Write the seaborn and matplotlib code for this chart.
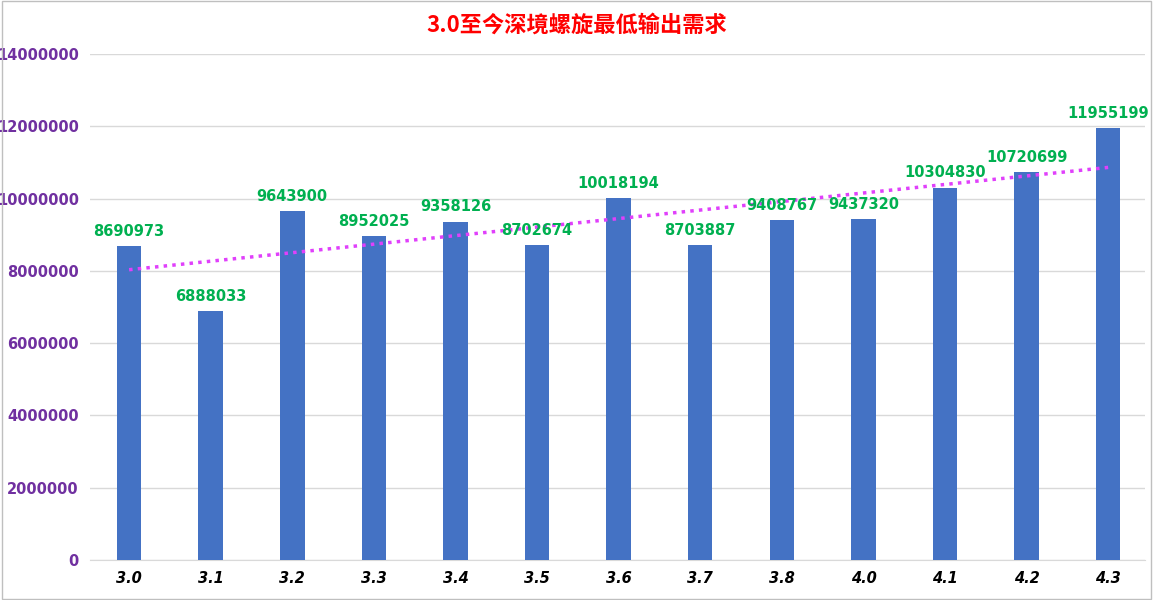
import numpy as np
import pandas as pd
import matplotlib
matplotlib.use("Agg")
import matplotlib.pyplot as plt
import seaborn as sns

# ---------------------------------------------
# Данные
# ---------------------------------------------
versions = ["3.0", "3.1", "3.2", "3.3", "3.4", "3.5", "3.6", "3.7", "3.8", "4.0", "4.1", "4.2", "4.3"]
demand = [8690973, 6888033, 9643900, 8952025, 9358126, 8702674, 10018194,
          8703887, 9408767, 9437320, 10304830, 10720699, 11955199]

title_text = "3.0至今深境螺旋最低输出需求"

plt.rcParams["font.family"] = ["Noto Sans CJK SC", "DejaVu Sans"]

df = pd.DataFrame({"version": versions, "demand": demand})

fig = plt.figure(figsize=(11.53, 6), dpi=100)
ax = fig.add_axes([0.078, 0.067, 0.915, 0.843])

sns.barplot(data=df, x="version", y="demand", color="#4472C4",
            width=0.3, saturation=1, ax=ax, zorder=3)

# линия тренда
xs = np.arange(len(demand))
k, b = np.polyfit(xs, demand, 1)
ax.plot(xs, k * xs + b, linestyle=(0, (1, 1.5)), color="#E040FB",
        linewidth=2.5, zorder=4)

for i, v in enumerate(demand):
    ax.text(i, v + 200000, str(v), ha="center", va="bottom",
            color="#00B050", fontsize=10.5, fontweight="bold",
            fontfamily="DejaVu Sans", zorder=5)

ax.set_ylim(0, 14000000)
ax.set_yticks(range(0, 14000001, 2000000))
ax.set_yticklabels([str(t) for t in range(0, 14000001, 2000000)],
                   color="#7030A0", fontweight="bold", fontsize=10.5,
                   fontfamily="DejaVu Sans")
ax.set_xticks(xs)
ax.set_xticklabels(versions, fontweight="bold", fontstyle="italic",
                   fontsize=10.5, fontfamily="DejaVu Sans")
ax.set_xlim(-0.48, len(demand) - 0.55)
ax.grid(axis="y", color="#D9D9D9", linewidth=1, zorder=0)
ax.set_xlabel("")
ax.set_ylabel("")
ax.tick_params(length=0, pad=8)
for s in ["top", "right", "left"]:
    ax.spines[s].set_visible(False)
ax.spines["bottom"].set_color("#D9D9D9")

fig.text(0.5, 0.958, title_text, ha="center", va="center",
         color="#FF0000", fontsize=16, fontweight="bold")

fig.patches.append(plt.Rectangle((0.002, 0.002), 0.996, 0.996,
                                 transform=fig.transFigure, fill=False,
                                 edgecolor="#BFBFBF", linewidth=1))

fig.savefig("out.png", dpi=100)
